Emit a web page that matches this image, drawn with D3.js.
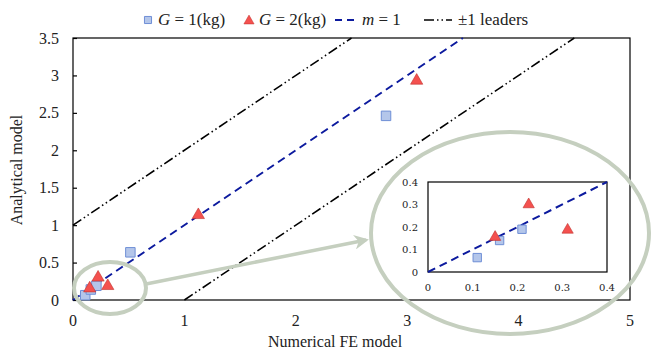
<!DOCTYPE html>
<html>
<head>
<meta charset="utf-8">
<script src="https://cdn.jsdelivr.net/npm/d3@7"></script>
<style>
  body { margin: 0; background: #fff; }
  svg { display: block; font-family: "Liberation Serif", "Times New Roman", serif; }
</style>
</head>
<body>
<svg id="chart" width="651" height="354"></svg>
<script>
// data
var g1 = [[0.11, 0.064], [0.16, 0.14], [0.21, 0.19], [0.515, 0.637], [2.81, 2.46]];
var g2 = [[0.15, 0.155], [0.225, 0.30], [0.312, 0.187], [1.125, 1.135], [3.085, 2.93]];
var mLine = [[0, 0], [3.5, 3.5]];
var leaderUp = [[0, 1], [2.5, 3.5]];
var leaderDown = [[1, 0], [4.5, 3.5]];
var xTicks = [0, 1, 2, 3, 4, 5];
var yTicks = [0, 0.5, 1, 1.5, 2, 2.5, 3, 3.5];
var insetTicks = [0, 0.1, 0.2, 0.3, 0.4];
var insetLine = [[0, 0], [0.4, 0.4]];

var BLUE_FILL = "#b4c6ea", BLUE_STROKE = "#6f8fd6";
var RED_FILL = "#f4514f", RED_STROKE = "#c0302c";
var M_COLOR = "#0c1a9e";
var HL = "#c5cfbf";
var LEADER_DASH = "10,3,1.5,3,1.5,3";

var svg = d3.select("#chart");

var x = d3.scaleLinear().domain([0, 5]).range([73, 630]);
var y = d3.scaleLinear().domain([0, 3.5]).range([300, 38]);

var line = d3.line().x(d => x(d[0])).y(d => y(d[1]));

// frame
svg.append("rect")
    .attr("x", x(0)).attr("y", y(3.5))
    .attr("width", x(5) - x(0)).attr("height", y(0) - y(3.5))
    .attr("fill", "none").attr("stroke", "#000").attr("stroke-width", 1.2);

// y ticks point inward
var yAxis = d3.axisRight(y).tickValues(yTicks).tickSize(4).tickFormat("");
svg.append("g").attr("transform", "translate(" + x(0) + ",0)")
    .call(yAxis)
    .call(g => g.select(".domain").remove())
    .call(g => g.selectAll("line").attr("stroke", "#000").attr("stroke-width", 1.2));

svg.append("g").selectAll("text").data(yTicks).join("text")
    .attr("x", 59).attr("y", d => y(d)).attr("dy", "0.35em")
    .attr("text-anchor", "end").attr("font-size", 16).attr("fill", "#222")
    .text(d => d);

svg.append("g").selectAll("text").data(xTicks).join("text")
    .attr("x", d => x(d)).attr("y", 326)
    .attr("text-anchor", "middle").attr("font-size", 16).attr("fill", "#222")
    .text(d => d);

// axis titles
svg.append("text")
    .attr("transform", "translate(22,170) rotate(-90)")
    .attr("text-anchor", "middle").attr("font-size", 16).attr("fill", "#222")
    .text("Analytical model");
svg.append("text")
    .attr("x", 335).attr("y", 347)
    .attr("text-anchor", "middle").attr("font-size", 16).attr("fill", "#222")
    .text("Numerical FE model");

// leaders and m = 1
[leaderUp, leaderDown].forEach(d => {
  svg.append("path").datum(d).attr("d", line)
      .attr("fill", "none").attr("stroke", "#000").attr("stroke-width", 1.6)
      .attr("stroke-dasharray", LEADER_DASH);
});
svg.append("path").datum(mLine).attr("d", line)
    .attr("fill", "none").attr("stroke", M_COLOR).attr("stroke-width", 2)
    .attr("stroke-dasharray", "8,5");

var square = d3.symbol().type(d3.symbolSquare);
var triangle = d3.symbol().type(d3.symbolTriangle);

function drawPoints(parent, sx, sy, sq, tri) {
  parent.append("g").selectAll("path").data(g1).join("path")
      .attr("transform", d => "translate(" + sx(d[0]) + "," + sy(d[1]) + ")")
      .attr("d", square.size(sq))
      .attr("fill", BLUE_FILL).attr("stroke", BLUE_STROKE).attr("stroke-width", 1);
  parent.append("g").selectAll("path").data(g2).join("path")
      .attr("transform", d => "translate(" + sx(d[0]) + "," + sy(d[1]) + ")")
      .attr("d", triangle.size(tri))
      .attr("fill", RED_FILL).attr("stroke", RED_STROKE).attr("stroke-width", 0.6);
}
drawPoints(svg, x, y, 90, 65);

// highlight: small ellipse, arrow, big ellipse
svg.append("ellipse")
    .attr("cx", 110).attr("cy", 288).attr("rx", 36).attr("ry", 26)
    .attr("fill", "none").attr("stroke", HL).attr("stroke-width", 4);
svg.append("ellipse")
    .attr("cx", 510).attr("cy", 233).attr("rx", 139).attr("ry", 101)
    .attr("fill", "none").attr("stroke", HL).attr("stroke-width", 4);

svg.append("defs").append("marker")
    .attr("id", "arrow").attr("viewBox", "0 0 10 10")
    .attr("refX", 8).attr("refY", 5)
    .attr("markerWidth", 4.2).attr("markerHeight", 4.2)
    .attr("orient", "auto")
  .append("path").attr("d", "M0,0 L10,5 L0,10 L3,5 Z").attr("fill", HL);
svg.append("line")
    .attr("x1", 146).attr("y1", 284).attr("x2", 366).attr("y2", 240)
    .attr("stroke", HL).attr("stroke-width", 3.5)
    .attr("marker-end", "url(#arrow)");

// inset
var ix = d3.scaleLinear().domain([0, 0.4]).range([428, 607]);
var iy = d3.scaleLinear().domain([0, 0.4]).range([272, 182]);
var inset = svg.append("g").attr("font-family", "'DejaVu Serif', 'Liberation Serif', serif");
inset.append("rect")
    .attr("x", ix(0)).attr("y", iy(0.4))
    .attr("width", ix(0.4) - ix(0)).attr("height", iy(0) - iy(0.4))
    .attr("fill", "#fff").attr("stroke", "#000").attr("stroke-width", 1.2);
inset.append("path").datum(insetLine)
    .attr("d", d3.line().x(d => ix(d[0])).y(d => iy(d[1])))
    .attr("fill", "none").attr("stroke", M_COLOR).attr("stroke-width", 2)
    .attr("stroke-dasharray", "8,5");
drawPoints(inset, ix, iy, 70, 55);
inset.append("g").selectAll("text").data(insetTicks).join("text")
    .attr("x", 418).attr("y", d => iy(d)).attr("dy", "0.35em")
    .attr("text-anchor", "end").attr("font-size", 10).attr("fill", "#222")
    .text(d => d);
inset.append("g").selectAll("text").data(insetTicks).join("text")
    .attr("x", d => ix(d)).attr("y", 291)
    .attr("text-anchor", "middle").attr("font-size", 10).attr("fill", "#222")
    .text(d => d);

// legend
var lg = svg.append("g").attr("font-size", 17).attr("fill", "#222");
lg.append("path").attr("transform", "translate(148,20)").attr("d", square.size(50))
    .attr("fill", BLUE_FILL).attr("stroke", BLUE_STROKE);
var t1 = lg.append("text").attr("x", 158).attr("y", 25);
t1.append("tspan").attr("font-style", "italic").text("G");
t1.append("tspan").text(" = 1(kg)");
lg.append("path").attr("transform", "translate(249,21)").attr("d", triangle.size(45))
    .attr("fill", RED_FILL).attr("stroke", RED_STROKE).attr("stroke-width", 0.5);
var t2 = lg.append("text").attr("x", 259).attr("y", 25);
t2.append("tspan").attr("font-style", "italic").text("G");
t2.append("tspan").text(" = 2(kg)");
lg.append("line").attr("x1", 335).attr("x2", 357).attr("y1", 20).attr("y2", 20)
    .attr("stroke", M_COLOR).attr("stroke-width", 2).attr("stroke-dasharray", "7,5");
var t3 = lg.append("text").attr("x", 362).attr("y", 25);
t3.append("tspan").attr("font-style", "italic").text("m");
t3.append("tspan").text(" = 1");
lg.append("line").attr("x1", 424).attr("x2", 452).attr("y1", 20).attr("y2", 20)
    .attr("stroke", "#000").attr("stroke-width", 1.6).attr("stroke-dasharray", "10,3,1.5,3,1.5,3");
lg.append("text").attr("x", 458).attr("y", 25).text("±1 leaders");
</script>
</body>
</html>
